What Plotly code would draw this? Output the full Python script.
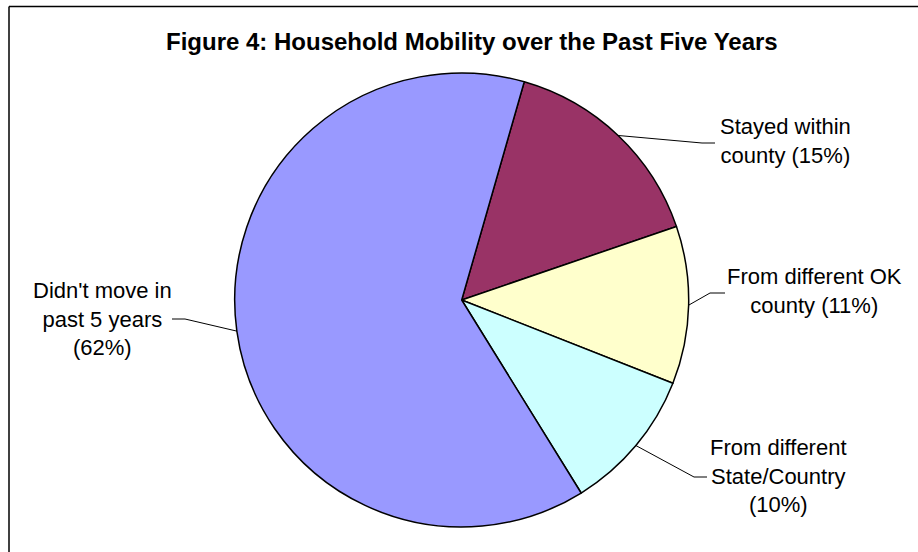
import math
import plotly.graph_objects as go

# Household mobility shares (percent of households)
categories = [
    "Stayed within county",
    "From different OK county",
    "From different State/Country",
    "Didn't move in past 5 years",
]
values = [15, 11, 10, 62]
label_templates = [
    "Stayed within<br>county ({}%)",
    "From different OK<br>county ({}%)",
    "From different<br>State/Country<br>({}%)",
    "Didn't move in<br>past 5 years<br>({}%)",
]
colors = ["#993366", "#FFFFCC", "#CCFFFF", "#9999FF"]

# Canvas and pie geometry (pixels)
W, H = 918, 552
CX, CY, R = 461.7, 300.0, 227.0
ROTATION = 16.0  # start angle of first slice, degrees clockwise from 12 o'clock

# Label placement (pixel centers) and leader elbow points, per slice
label_pos = [(785, 141), (814, 291), (778, 476), (102.5, 319)]
label_elbow = [(702, 143), (710, 293), (694, 477), (185, 319)]
label_tail = [(715, 143), (725, 293), (707, 477), (172, 319)]


def px(x):
    return x / W


def py(y):
    return 1 - y / H


fig = go.Figure(
    go.Pie(
        labels=categories,
        values=values,
        sort=False,
        direction="clockwise",
        rotation=ROTATION,
        marker=dict(colors=colors, line=dict(color="black", width=1.5)),
        textinfo="none",
        hoverinfo="skip",
        showlegend=False,
        domain=dict(
            x=[px(CX - R), px(CX + R)],
            y=[py(CY + R), py(CY - R)],
        ),
    )
)

# Slice mid-angles from the data, used to anchor the leader lines on the rim
total = sum(values)
shapes = []
annotations = []
cum = 0.0
for i, v in enumerate(values):
    mid = ROTATION + 360.0 * (cum + v / 2.0) / total
    cum += v
    a = math.radians(mid)
    ex, ey = CX + R * math.sin(a), CY - R * math.cos(a)
    bx, by = label_elbow[i]
    tx, ty = label_tail[i]
    shapes.append(
        dict(
            type="path",
            xref="paper",
            yref="paper",
            path=f"M {px(ex)},{py(ey)} L {px(bx)},{py(by)} L {px(tx)},{py(ty)}",
            line=dict(color="black", width=1),
        )
    )
    lx, ly = label_pos[i]
    annotations.append(
        dict(
            x=px(lx),
            y=py(ly),
            xref="paper",
            yref="paper",
            xanchor="center",
            yanchor="middle",
            align="center",
            showarrow=False,
            text=label_templates[i].format(v),
            font=dict(family="Arial, Liberation Sans, sans-serif", size=22, color="black"),
        )
    )

# Title
annotations.append(
    dict(
        x=px(472),
        y=py(41),
        xref="paper",
        yref="paper",
        xanchor="center",
        yanchor="middle",
        showarrow=False,
        text="<b>Figure 4: Household Mobility over the Past Five Years</b>",
        font=dict(family="Arial, Liberation Sans, sans-serif", size=24, color="black"),
    )
)

# Chart-area frame (top and left edges)
shapes.append(dict(type="line", xref="paper", yref="paper",
                   x0=px(9), x1=1.02, y0=py(6.5), y1=py(6.5),
                   line=dict(color="black", width=1.5)))
shapes.append(dict(type="line", xref="paper", yref="paper",
                   x0=px(9), x1=px(9), y0=py(6.5), y1=-0.02,
                   line=dict(color="black", width=1.5)))

fig.update_layout(
    width=W,
    height=H,
    margin=dict(l=0, r=0, t=0, b=0),
    paper_bgcolor="white",
    plot_bgcolor="white",
    shapes=shapes,
    annotations=annotations,
)

fig.write_html("out.html")
